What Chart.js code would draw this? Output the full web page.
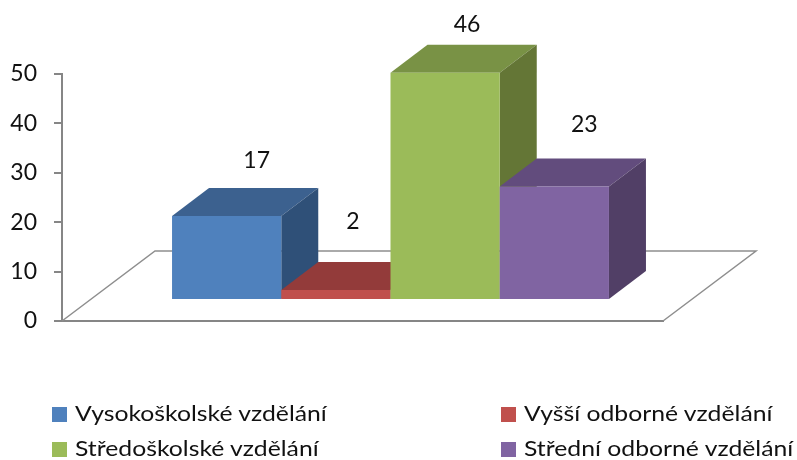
<!DOCTYPE html>
<html lang="cs">
<head>
<meta charset="utf-8">
<title>Vzdělání</title>
<script src="https://cdn.jsdelivr.net/npm/chart.js@4"></script>
<style>
    html, body { margin: 0; padding: 0; background: #fff; }
    #wrap { position: relative; width: 797px; height: 460px; overflow: hidden; }
    #chart { position: absolute; left: 0; top: 0; }
    .legend-item { position: absolute; font: 22px Lato, sans-serif; color: #111; white-space: nowrap; line-height: 28px; }
    .legend-item span { position: absolute; left: 0; top: 7px; width: 15px; height: 15px; }
    .legend-item b { position: absolute; left: 23px; top: -1px; font-weight: normal; transform: scaleX(1.125); transform-origin: left center; }
</style>
</head>
<body>
<div id="wrap">
    <canvas id="chart" width="797" height="460"></canvas>
</div>
<script>
const categories = ['Vzdělání'];
const seriesNames = ['Vysokoškolské vzdělání', 'Vyšší odborné vzdělání', 'Středoškolské vzdělání', 'Střední odborné vzdělání'];
const seriesValues = [17, 2, 46, 23];
const frontColors = ['#4f81bd', '#c0504d', '#9bbb59', '#8064a2'];
const topColors = ['#3c618f', '#933b3a', '#799245', '#624c7d'];
const sideColors = ['#2f5078', '#7d3130', '#647636', '#513f66'];
const yTicks = [0, 10, 20, 30, 40, 50];

// 3D projection: how far the floor goes back, where the bars stand on it, how deep they are
const floorDepth = { x: 93, y: -70 };
const barOffset = { x: 28, y: -21 };
const barDepth = { x: 37, y: -28 };
// data labels do not sit at the same spot above each bar in the original
const labelNudge = [{ x: 30, y: -55 }, { x: 17, y: -69 }, { x: 22, y: -48 }, { x: 30, y: -62 }];
const legendSpots = [{ x: 52, y: 400 }, { x: 501, y: 400 }, { x: 52, y: 435 }, { x: 501, y: 435 }];

function fillFace(ctx, points, color) {
    ctx.fillStyle = color;
    ctx.beginPath();
    points.forEach(function(p, i) {
        if (i === 0) {
            ctx.moveTo(p[0], p[1]);
        } else {
            ctx.lineTo(p[0], p[1]);
        }
    });
    ctx.closePath();
    ctx.fill();
}

const box3d = {
    id: 'box3d',
    // floor of the chart
    beforeDatasetsDraw(chart) {
        const ctx = chart.ctx;
        const a = chart.chartArea;
        ctx.save();
        ctx.strokeStyle = '#8e8e8e';
        ctx.lineWidth = 1.5;
        ctx.beginPath();
        ctx.moveTo(a.left, a.bottom);
        ctx.lineTo(a.left + floorDepth.x, a.bottom + floorDepth.y);
        ctx.lineTo(a.right + floorDepth.x, a.bottom + floorDepth.y);
        ctx.lineTo(a.right, a.bottom);
        ctx.stroke();
        ctx.restore();
    },
    // the library goes from the last dataset to the first, the bars need left to right
    beforeDatasetDraw() {
        return false;
    },
    afterDatasetsDraw(chart) {
        const ctx = chart.ctx;
        seriesValues.forEach(function(value, i) {
            const meta = chart.getDatasetMeta(i);
            const bar = meta.data[0];
            const left = bar.x - bar.width / 2;
            const right = bar.x + bar.width / 2;
            ctx.save();
            ctx.translate(barOffset.x, barOffset.y);
            fillFace(ctx, [
                [left, bar.y], [right, bar.y],
                [right + barDepth.x, bar.y + barDepth.y], [left + barDepth.x, bar.y + barDepth.y]
            ], topColors[i]);
            fillFace(ctx, [
                [right, bar.y], [right + barDepth.x, bar.y + barDepth.y],
                [right + barDepth.x, bar.base + barDepth.y], [right, bar.base]
            ], sideColors[i]);
            meta.controller.draw();
            ctx.restore();
        });
        // value labels
        ctx.save();
        ctx.font = '23px Lato, sans-serif';
        ctx.fillStyle = '#111';
        ctx.textAlign = 'center';
        ctx.textBaseline = 'middle';
        seriesValues.forEach(function(value, i) {
            const bar = chart.getDatasetMeta(i).data[0];
            ctx.fillText(value, bar.x + barOffset.x + labelNudge[i].x, bar.y + barOffset.y + labelNudge[i].y);
        });
        ctx.restore();
    }
};

new Chart(document.getElementById('chart').getContext('2d'), {
    type: 'bar',
    data: {
        labels: categories,
        datasets: seriesNames.map(function(name, i) {
            return {
                label: name,
                data: [seriesValues[i]],
                backgroundColor: frontColors[i],
                clip: false
            };
        })
    },
    options: {
        responsive: false,
        animation: false,
        categoryPercentage: 0.727,
        barPercentage: 1,
        layout: { padding: { left: 0, top: 74, right: 134, bottom: 139 } },
        plugins: {
            legend: { display: false },
            tooltip: { enabled: false }
        },
        scales: {
            x: {
                afterFit: function(scale) { scale.height = 0; },
                ticks: { display: false },
                grid: { display: false },
                border: { color: '#868686', width: 2 }
            },
            y: {
                min: yTicks[0],
                max: yTicks[yTicks.length - 1],
                afterFit: function(scale) { scale.width = 62; },
                afterBuildTicks: function(scale) {
                    scale.ticks = yTicks.map(function(v) { return { value: v }; });
                },
                ticks: { color: '#111', padding: 17, font: { family: 'Lato, sans-serif', size: 23 } },
                grid: { drawOnChartArea: false, color: '#868686', lineWidth: 2, tickLength: 8 },
                border: { color: '#868686', width: 2 }
            }
        }
    },
    plugins: [box3d]
});

// legend in two columns
const wrap = document.getElementById('wrap');
seriesNames.forEach(function(name, i) {
    const item = document.createElement('div');
    item.className = 'legend-item';
    item.style.left = legendSpots[i].x + 'px';
    item.style.top = legendSpots[i].y + 'px';
    const box = document.createElement('span');
    box.style.background = frontColors[i];
    const text = document.createElement('b');
    text.textContent = name;
    item.appendChild(box);
    item.appendChild(text);
    wrap.appendChild(item);
});
</script>
</body>
</html>
